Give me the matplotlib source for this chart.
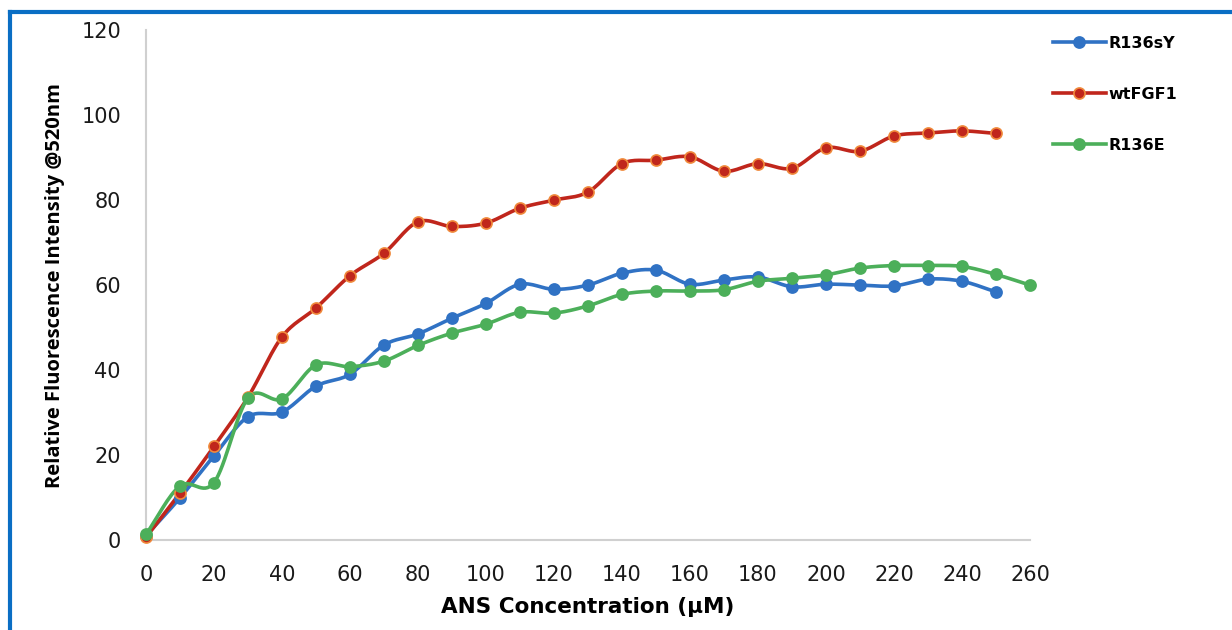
import matplotlib
matplotlib.use("Agg")
import matplotlib.pyplot as plt
from matplotlib.lines import Line2D
import numpy as np

conc = [0, 10, 20, 30, 40, 50, 60, 70, 80, 90, 100, 110, 120, 130, 140, 150,
        160, 170, 180, 190, 200, 210, 220, 230, 240, 250, 260]

r136sy = [1.0, 9.9, 19.8, 29.0, 30.1, 36.2, 39.0, 45.9, 48.5, 52.2, 55.7, 60.2,
          59.0, 60.0, 62.8, 63.5, 60.2, 61.2, 61.9, 59.6, 60.2, 60.0, 59.8,
          61.4, 60.9, 58.4]
wtfgf1 = [0.6, 11.0, 22.0, 33.6, 47.8, 54.6, 62.2, 67.5, 74.9, 73.8, 74.6, 78.1,
          80.0, 81.9, 88.6, 89.4, 90.2, 86.8, 88.6, 87.5, 92.3, 91.5, 95.1,
          95.8, 96.3, 95.7]
r136e = [1.3, 12.7, 13.5, 33.4, 33.2, 41.2, 40.8, 42.1, 45.8, 48.7, 50.8, 53.6,
         53.4, 55.1, 57.8, 58.6, 58.6, 58.9, 60.9, 61.6, 62.4, 64.0, 64.6,
         64.6, 64.4, 62.5, 60.0]

series_names = ["R136sY", "wtFGF1", "R136E"]
line_colors = ["#3072c4", "#c0261c", "#4caf5a"]
edge_colors = ["#3072c4", "#f08a3c", "#4caf5a"]
face_colors = ["#3072c4", "#c0261c", "#4caf5a"]


def smooth(x, y, n=16):
    # Catmull-Rom path through the points (like Excel's smoothed line)
    x = np.asarray(x, float)
    y = np.asarray(y, float)
    px = np.concatenate([[2 * x[0] - x[1]], x, [2 * x[-1] - x[-2]]])
    py = np.concatenate([[2 * y[0] - y[1]], y, [2 * y[-1] - y[-2]]])
    t = np.linspace(0, 1, n, endpoint=False)
    xs, ys = [], []
    for i in range(1, len(px) - 2):
        for p, out in ((px, xs), (py, ys)):
            p0, p1, p2, p3 = p[i - 1], p[i], p[i + 1], p[i + 2]
            out.extend(0.5 * (2 * p1 + (-p0 + p2) * t
                              + (2 * p0 - 5 * p1 + 4 * p2 - p3) * t ** 2
                              + (-p0 + 3 * p1 - 3 * p2 + p3) * t ** 3))
    xs.append(x[-1])
    ys.append(y[-1])
    return xs, ys


plt.rcParams["font.family"] = ["DejaVu Sans"]

fig = plt.figure(figsize=(12.32, 6.3), dpi=100)
ax = fig.add_axes([0.1185, 0.143, 0.7175, 0.809])

handles = []
for name, ys, lc, ec, fc in zip(series_names, [r136sy, wtfgf1, r136e],
                                line_colors, edge_colors, face_colors):
    xv = conc[:len(ys)]
    sx, sy = smooth(xv, ys)
    ax.plot(sx, sy, color=lc, lw=2.6, zorder=2, solid_capstyle="round",
            clip_on=False)
    ax.plot(xv, ys, ls="none", marker="o", ms=8, mfc=fc, mec=ec, mew=1.2,
            zorder=3, clip_on=False)
    handles.append(Line2D([], [], color=lc, lw=2.6, marker="o", ms=8,
                          mfc=fc, mec=ec, mew=1.2))

ax.set_xlim(0, 260)
ax.set_ylim(0, 120)
ax.set_xticks(range(0, 261, 20))
ax.set_yticks(range(0, 121, 20))
ax.tick_params(length=0, labelsize=15, colors="#1a1a1a")
ax.tick_params(axis="x", pad=18)
ax.tick_params(axis="y", pad=18)
for s in ["top", "right"]:
    ax.spines[s].set_visible(False)
for s in ["left", "bottom"]:
    ax.spines[s].set_color("#d0d0d0")
    ax.spines[s].set_linewidth(1.5)

ax.set_xlabel("ANS Concentration (µM)", fontsize=15.5, fontweight="bold",
              labelpad=9)
ax.set_ylabel("Relative Fluorescence Intensity @520nm", fontsize=14.5,
              fontweight="bold", labelpad=12, family=["Open Sans"])

fig.legend(handles, series_names, loc="upper left",
           bbox_to_anchor=(0.843, 0.966), frameon=False, handlelength=3.3,
           labelspacing=2.25, handletextpad=0.2,
           prop={"weight": "bold", "size": 11.5})

# blue frame around the chart area
fig.add_artist(Line2D([10 / 1232, 1], [1 - 12 / 630, 1 - 12 / 630],
                      color="#0a6ec4", lw=3, transform=fig.transFigure))
fig.add_artist(Line2D([10 / 1232, 10 / 1232], [0, 1 - 12 / 630],
                      color="#0a6ec4", lw=3, transform=fig.transFigure))

fig.savefig("out.png", dpi=100)
